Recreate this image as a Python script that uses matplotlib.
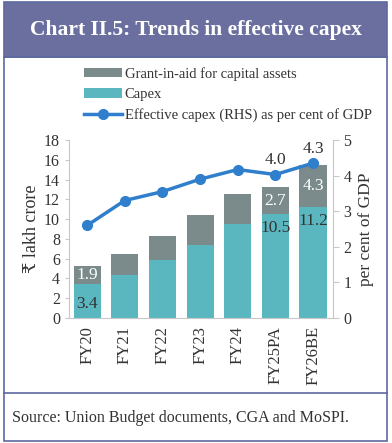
import matplotlib.pyplot as plt
from matplotlib.patches import Rectangle
from matplotlib.lines import Line2D

plt.rcParams['font.family'] = ['Liberation Serif', 'DejaVu Serif', 'DejaVu Sans']

years = ['FY20', 'FY21', 'FY22', 'FY23', 'FY24', 'FY25PA', 'FY26BE']
capex = [3.4, 4.3, 5.9, 7.4, 9.5, 10.5, 11.2]
grant = [1.9, 2.2, 2.4, 3.0, 3.0, 2.7, 4.3]
eff_gdp = [2.6, 3.3, 3.55, 3.9, 4.17, 4.03, 4.35]

capex_labels = {0: '3.4', 5: '10.5', 6: '11.2'}
grant_labels = {0: '1.9', 5: '2.7', 6: '4.3'}
line_labels = {5: '4.0', 6: '4.3'}

c_capex = '#5bb7bf'
c_grant = '#7b8b8b'
c_line = '#2f7fcc'
c_text = '#333333'
c_frame = '#5d68a0'
c_head = '#6b6fa0'

fig = plt.figure(figsize=(3.92, 4.43), dpi=100)

# frame and header
W, H = 392, 443
def fx(px): return px / W
def fy(py): return 1 - py / H
fig.patches.append(Rectangle((fx(4), fy(57)), fx(387) - fx(4), fy(2) - fy(57),
                             transform=fig.transFigure, facecolor=c_head,
                             edgecolor=c_frame, lw=1.2))
fig.patches.append(Rectangle((fx(4), fy(441)), fx(387) - fx(4), fy(57) - fy(441),
                             transform=fig.transFigure, facecolor='none',
                             edgecolor=c_frame, lw=1.2))
fig.add_artist(Line2D([fx(4), fx(387)], [fy(393), fy(393)],
                      transform=fig.transFigure, color=c_frame, lw=1.2))
fig.text(fx(196), fy(30), 'Chart II.5: Trends in effective capex', color='white',
         fontsize=15.5, fontweight='bold', ha='center', va='center')
fig.text(fx(12), fy(418), 'Source: Union Budget documents, CGA and MoSPI.',
         color=c_text, fontsize=11.5, ha='left', va='center')

ax = fig.add_axes([fx(69), fy(318), fx(333) - fx(69), fy(140) - fy(318)])
x = range(len(years))
ax.bar(x, capex, width=0.72, color=c_capex, label='Capex', zorder=2)
ax.bar(x, grant, width=0.72, bottom=capex, color=c_grant,
       label='Grant-in-aid for capital assets', zorder=2)
for i, t in capex_labels.items():
    yy = 1.4 if i == 0 else capex[i] - 1.4
    ax.text(i, yy, t, ha='center', va='center', fontsize=12.5, color=c_text, zorder=3)
for i, t in grant_labels.items():
    ax.text(i, capex[i] + grant[i] / 2, t, ha='center', va='center',
            fontsize=12.5, color='white', zorder=3)

ax.set_ylim(0, 18)
ax.set_yticks(range(0, 19, 2))
ax.set_xlim(-0.48, 6.53)
ax.set_xticks(list(x))
ax.set_xticklabels(years, rotation=90, fontsize=12, color=c_text)
ax.set_ylabel('₹ lakh crore', fontsize=13, color=c_text, labelpad=3)
ax.tick_params(axis='y', labelsize=11.5, colors=c_text, length=3, color='#c8c8c8')
ax.tick_params(axis='x', length=0, pad=6)
for s in ['top', 'right']:
    ax.spines[s].set_visible(False)
for s in ['left', 'bottom']:
    ax.spines[s].set_color('#c8c8c8')

ax2 = ax.twinx()
ax2.plot(x, eff_gdp, color=c_line, lw=2.5, marker='o', ms=7,
         label='Effective capex (RHS) as per cent of GDP', zorder=4)
for i, t in line_labels.items():
    ax2.text(i, eff_gdp[i] + 0.17, t, ha='center', va='bottom', fontsize=12.5, color=c_text)
ax2.set_ylim(0, 5)
ax2.set_yticks(range(0, 6))
ax2.set_ylabel('per cent of GDP', fontsize=12.5, color=c_text, labelpad=5)
ax2.tick_params(axis='y', labelsize=11.5, colors=c_text, length=4, color='#c8c8c8')
for s in ['top', 'left', 'bottom']:
    ax2.spines[s].set_visible(False)
ax2.spines['right'].set_color('#c8c8c8')

h1, l1 = ax.get_legend_handles_labels()
h2, l2 = ax2.get_legend_handles_labels()
fig.legend([h1[1], h1[0], h2[0]], [l1[1], l1[0], l2[0]],
           loc='upper left', bbox_to_anchor=(fx(84), fy(67)), frameon=False,
           fontsize=10.5, handlelength=2.6, handleheight=0.6, handletextpad=0.2,
           labelspacing=0.5, borderaxespad=0, borderpad=0, labelcolor=c_text)

fig.savefig('out.png', dpi=100)
